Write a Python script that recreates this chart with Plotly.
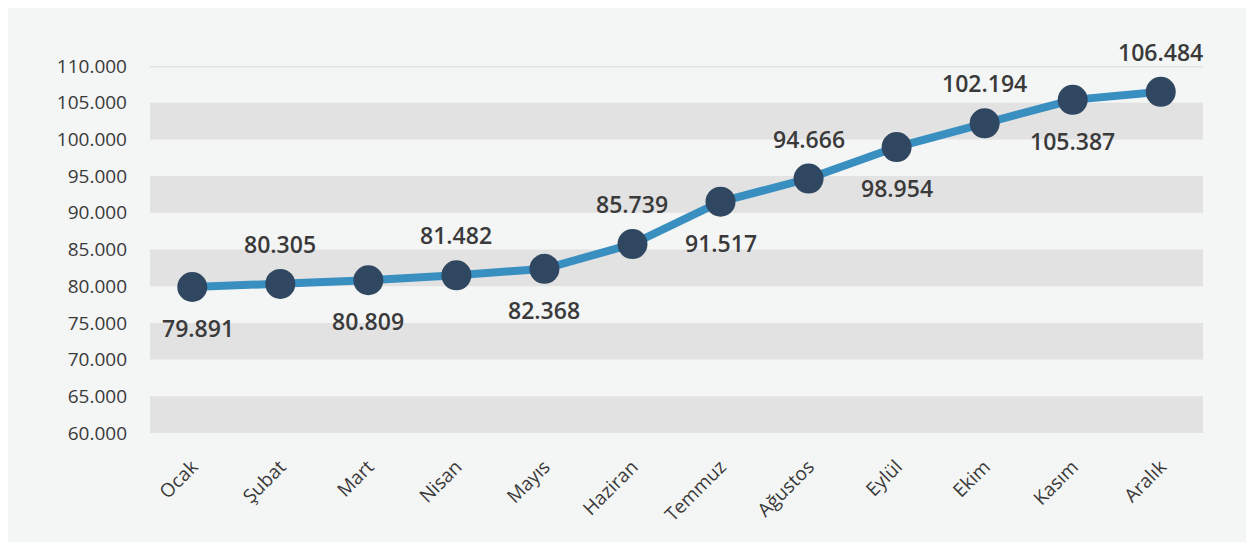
import plotly.graph_objects as go

months = ["Ocak", "Şubat", "Mart", "Nisan", "Mayıs", "Haziran",
          "Temmuz", "Ağustos", "Eylül", "Ekim", "Kasım", "Aralık"]
values = [79891, 80305, 80809, 81482, 82368, 85739,
          91517, 94666, 98954, 102194, 105387, 106484]
label_side = ["below", "above", "below", "above", "below", "above",
              "below", "above", "below", "above", "below", "above"]
y_ticks = [60000, 65000, 70000, 75000, 80000, 85000, 90000,
           95000, 100000, 105000, 110000]

BG = "#f4f5f5"
BAND = "#e2e2e2"
LINE = "#3a8fc1"
MARK = "#2f4760"
TXT = "#3a3a3a"

def fmt(v):
    return f"{v:,}".replace(",", ".")

fig = go.Figure()
fig.add_trace(go.Scatter(
    x=months, y=values, mode="lines+markers",
    line=dict(color=LINE, width=8),
    marker=dict(size=30, color=MARK),
    hoverinfo="skip", showlegend=False,
))

for m, v, side in zip(months, values, label_side):
    fig.add_annotation(
        x=m, y=v, text=fmt(v), showarrow=False,
        yshift=40 if side == "above" else -41,
        xshift=6 if side == "below" and m == "Ocak" else 0,
        font=dict(family="Open Sans", size=23, color=TXT, weight=600),
    )

shapes = []
for lo, hi in zip(y_ticks[0::2], y_ticks[1::2]):
    shapes.append(dict(type="rect", xref="paper", yref="y",
                       x0=0, x1=1, y0=lo, y1=hi,
                       fillcolor=BAND, line=dict(width=0), layer="below"))
shapes.append(dict(type="line", xref="paper", yref="y",
                   x0=0, x1=1, y0=y_ticks[-1], y1=y_ticks[-1],
                   line=dict(color=BAND, width=3), layer="below"))

fig.update_layout(
    width=1246, height=534,
    paper_bgcolor=BG, plot_bgcolor="rgba(0,0,0,0)",
    margin=dict(l=142, r=51, t=58, b=109),
    separators=",.",
    shapes=shapes,
    xaxis=dict(
        range=[-0.48, 11.48], showgrid=False, zeroline=False,
        showline=False, ticks="", tickangle=-45,
        ticklabelstandoff=18,
        tickfont=dict(family="Open Sans", size=19, color=TXT),
    ),
    yaxis=dict(
        range=[60000, 110000], tickvals=y_ticks, tickformat=",d",
        showgrid=False, zeroline=False, showline=False, ticks="",
        ticklabelstandoff=22,
        tickfont=dict(family="Open Sans", size=19, color=TXT),
    ),
)

fig.write_html("out.html")
